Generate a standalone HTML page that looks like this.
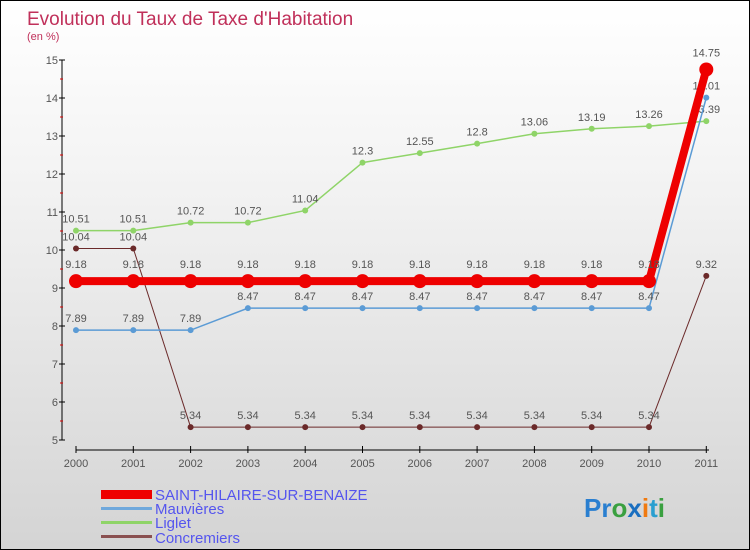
<!DOCTYPE html>
<html><head><meta charset="utf-8"><style>
body{margin:0}
#c{width:750px;height:550px;position:relative;box-sizing:border-box;border:1px solid #000;background:linear-gradient(#ffffff,#f4f4f4 30%,#d4d4d4);font-family:"Liberation Sans",sans-serif;overflow:hidden}
</style></head><body>
<div id="c">
<svg id="s" width="748" height="548" xmlns="http://www.w3.org/2000/svg">
<text x="26" y="24" font-size="19" fill="#c0305a">Evolution du Taux de Taxe d'Habitation</text>
<text x="26" y="39" font-size="11" fill="#c0305a">(en %)</text>
<g id="axes"></g><g id="series"></g>
<g>
<rect x="100" y="489" width="51" height="9" fill="#e00"/>
<text x="154" y="499" font-size="15" fill="#5555ee">SAINT-HILAIRE-SUR-BENAIZE</text>
<rect x="100" y="506" width="51" height="3" fill="#6fa8dc"/>
<text x="154" y="513" font-size="15" fill="#5555ee">Mauvières</text>
<rect x="100" y="520" width="51" height="3" fill="#8fd468"/>
<text x="154" y="527" font-size="15" fill="#5555ee">Liglet</text>
<rect x="100" y="534" width="51" height="3" fill="#8a5050"/>
<text x="154" y="542" font-size="15" fill="#5555ee">Concremiers</text>
</g>
<text x="583" y="516" font-size="26" font-weight="bold"><tspan fill="#2a7fd0">Pr</tspan><tspan fill="#3aa040">o</tspan><tspan fill="#1a6fc0">x</tspan><tspan fill="#f07a10">i</tspan><tspan fill="#2a9fd0">t</tspan><tspan fill="#3aa040">i</tspan></text>
</svg></div>
<script>
const years=["2000","2001","2002","2003","2004","2005","2006","2007","2008","2009","2010","2011"];
const yTicks=[5,6,7,8,9,10,11,12,13,14,15];
const saint=[9.18,9.18,9.18,9.18,9.18,9.18,9.18,9.18,9.18,9.18,9.18,14.75];
const mauv=[7.89,7.89,7.89,8.47,8.47,8.47,8.47,8.47,8.47,8.47,8.47,14.01];
const liglet=[10.51,10.51,10.72,10.72,11.04,12.3,12.55,12.8,13.06,13.19,13.26,13.39];
const concr=[10.04,10.04,5.34,5.34,5.34,5.34,5.34,5.34,5.34,5.34,5.34,9.32];
const NS="http://www.w3.org/2000/svg";
const X=i=>75+i*57.3, Y=v=>439-(v-5)*38;
function mk(t,a,p){const e=document.createElementNS(NS,t);for(const k in a)e.setAttribute(k,a[k]);p.appendChild(e);return e;}
const ax=document.getElementById('axes');
let l=mk('line',{x1:61,y1:59,x2:61,y2:439,stroke:'#000'},ax);


l=mk('line',{x1:75,y1:449,x2:708,y2:449,stroke:'#000'},ax);


yTicks.forEach(v=>{
 mk('line',{x1:58,y1:Y(v),x2:64,y2:Y(v),stroke:'#000'},ax);
 if(v<15)mk('line',{x1:59,y1:Y(v+0.5),x2:62,y2:Y(v+0.5),stroke:'#d00'},ax);
 const t=mk('text',{x:57,y:Y(v)+4,'font-size':11,fill:'#555','text-anchor':'end'},ax);t.textContent=v;
 
 
});
years.forEach((y,i)=>{
 mk('line',{x1:X(i),y1:445,x2:X(i),y2:452,stroke:'#000'},ax);
 const t=mk('text',{x:X(i),y:466,'font-size':11,fill:'#555','text-anchor':'middle'},ax);t.textContent=y;
 
 
});
const sg=document.getElementById('series');
function series(data,col,w,r,name,off){
 const g=mk('g',{},sg);
 
 
 mk('polyline',{points:data.map((v,i)=>X(i)+','+Y(v)).join(' '),fill:'none',stroke:col,'stroke-width':w},g);
 data.forEach((v,i)=>{
  const c=mk('circle',{cx:X(i),cy:Y(v),r:r,fill:col},g);
  
  
  const t=mk('text',{x:X(i),y:Y(v)+off,'font-size':11,fill:'#555','text-anchor':'middle'},g);
  t.textContent=String(v);
  
  
 });
}
series(concr,'#6b2a2a',1,3,'series-concremiers',-8);
series(liglet,'#8fd468',1.5,3,'series-liglet',-8);
series(mauv,'#5b9bd5',1.5,3,'series-mauvieres',-8);
series(saint,'#ee0000',8,7,'series-saint-hilaire',-13);
</script>
</body></html>
